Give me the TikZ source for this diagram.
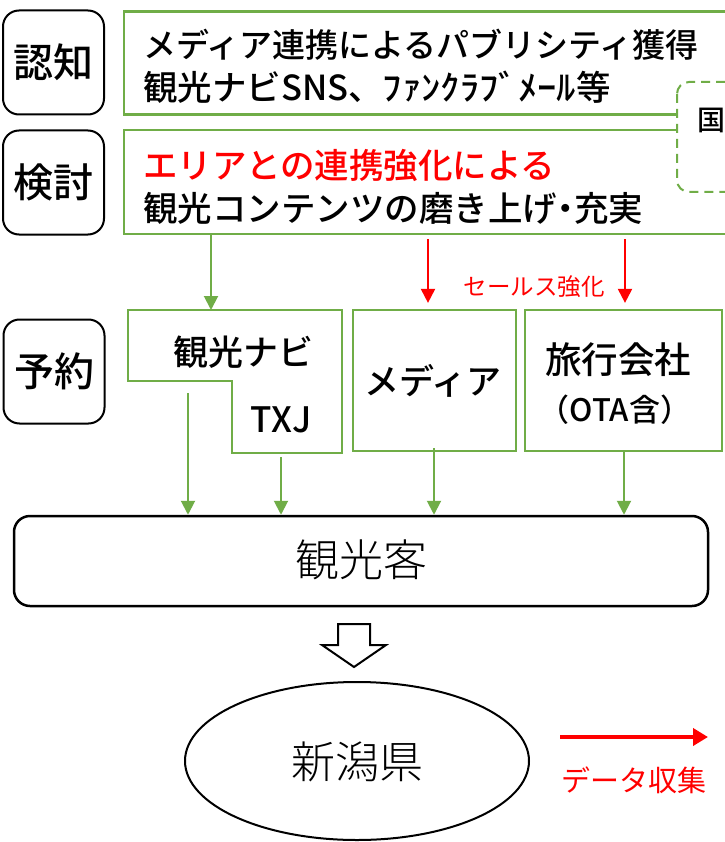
\documentclass[tikz,border=0pt]{standalone}
\usepackage{fontspec}
\IfFontExistsTF{Noto Sans CJK JP Medium}{\setmainfont{Noto Sans CJK JP Medium}}{\setmainfont{Noto Sans CJK JP}}
\newfontfamily\jpreg{Noto Sans CJK JP}
\IfFontExistsTF{Noto Sans CJK JP Light}{\newfontfamily\jplight{Noto Sans CJK JP Light}}{\newfontfamily\jplight{Noto Sans CJK JP}}
\usetikzlibrary{arrows.meta,shapes.geometric}
\definecolor{gr}{HTML}{70AD47}
\definecolor{rd}{HTML}{FF0000}
\tikzset{
  stage/.style={draw=black, line width=2pt, rounded corners=16pt, minimum width=101pt, minimum height=104pt, inner sep=0pt, font=\fontsize{40}{42}\selectfont},
  gbox/.style={draw=gr, line width=2.2pt, fill=white, inner sep=0pt},
  txt/.style={inner sep=0pt, font=\fontsize{34.5}{38}\selectfont},
  midtxt/.style={inner sep=0pt, font=\fontsize{35}{40}\selectfont},
  bigtxt/.style={inner sep=0pt, font=\jplight\fontsize{44}{48}\selectfont},
  garrow/.style={draw=gr, line width=2pt, -{Triangle[width=14pt,length=14pt]}},
  rarrow/.style={draw=rd, line width=2pt, -{Triangle[width=14pt,length=14pt]}},
}
\begin{document}
\begin{tikzpicture}[x=1pt,y=-1pt]
\useasboundingbox (0,0) rectangle (724,842);
\fill[white] (0,0) rectangle (724,842);

% stage labels
\node[stage] (ninchi) at (53.5,62.5) {認知};
\node[stage] (kento) at (53.5,182.5) {検討};
\node[stage] (yoyaku) at (54,371.5) {予約};

% top green boxes
\node[gbox, minimum width=656pt, minimum height=103pt] (box1) at (452,63) {};
\node[gbox, minimum width=656pt, minimum height=104pt] (box2) at (452,182) {};
\node[inner sep=0pt, anchor=west, font=\fontsize{33}{38}\selectfont] (l1) at (143,45) {メディア連携によるパブリシティ獲得};
\node[txt, anchor=west] (l2) at (143,87) {観光ナビSNS、\scalebox{1.12}[1]{ﾌｧﾝｸﾗﾌﾞﾒｰﾙ}等};
\node[txt, anchor=west, text=rd] (l3) at (143,165) {エリアとの連携強化による};
\node[txt, anchor=west] (l4) at (143,208) {観光コンテンツの磨き上げ\makebox[17pt][c]{・}充実};

% dashed box at right edge
\draw[draw=gr, line width=2pt, dash pattern=on 9pt off 6pt, fill=white, rounded corners=12pt] (677,82) rectangle (800,192);
\node[inner sep=0pt, anchor=west, font=\fontsize{28}{30}\selectfont] (koku) at (697,120) {国};

% row 3 boxes
\draw[draw=gr, line width=2.2pt] (128,310) -- (342,310) -- (342,453) -- (232,453) -- (232,381) -- (128,381) -- cycle;
\coordinate (navitop) at (235,310);
\node[midtxt] (navi) at (243,352) {観光ナビ};
\node[midtxt] (txj) at (281,420) {TXJ};
\node[gbox, minimum width=163pt, minimum height=141pt] (media) at (434.5,380.5) {};
\node[midtxt] (mediat) at (433,381) {メディア};
\node[gbox, minimum width=197pt, minimum height=141pt] (travel) at (623.5,380.5) {};
\node[inner sep=0pt, font=\fontsize{36.5}{40}\selectfont] (travelt) at (618,360) {旅行会社};
\node[inner sep=0pt, font=\fontsize{31}{36}\selectfont] (ota) at (615,410) {（OTA含）};

% arrows from box2
\coordinate (ga) at (211,0);
\coordinate (ra) at (428,0);
\coordinate (rb) at (625,0);
\draw[garrow] (box2.south -| ga) -- (navitop -| ga);
\coordinate (rs1) at (428,239);
\coordinate (rs2) at (625,239);
\draw[rarrow] (rs1) -- ([yshift=6pt]media.north -| ra);
\draw[rarrow] (rs2) -- ([yshift=6pt]travel.north -| rb);
\node[inner sep=0pt, text=rd, font=\jpreg\fontsize{23.5}{28}\selectfont] (sales) at (534,287) {セールス強化};

% tourist box
\node[draw=black, line width=2.5pt, rounded corners=16pt, minimum width=694pt, minimum height=90pt, inner sep=0pt] (kyaku) at (361,561) {};
\node[bigtxt] (kyakut) at (361,560) {観光客};

% arrows down to tourists
\coordinate (d1) at (188,393);
\coordinate (d2) at (281,457);
\coordinate (d3) at (434,448);
\coordinate (d4) at (624,450);
\draw[garrow] (d1) -- (kyaku.north -| d1);
\draw[garrow] (d2) -- (kyaku.north -| d2);
\draw[garrow] (d3) -- (kyaku.north -| d3);
\draw[garrow] (d4) -- (kyaku.north -| d4);

% hollow block arrow
\draw[line width=2pt, fill=white, line join=miter] (338,624) -- (370,624) -- (370,645) -- (386,645) -- (354,667) -- (322,645) -- (338,645) -- cycle;

% ellipse
\node[ellipse, draw=black, line width=2pt, minimum width=344pt, minimum height=158pt, inner sep=0pt] (niigata) at (357,761) {};
\node[bigtxt] (niigatat) at (357,762) {新潟県};

% legend
\coordinate (ls) at (560,737);
\coordinate (le) at (708,737);
\draw[draw=rd, line width=4.5pt, -{Triangle[width=17pt,length=15pt]}] (ls) -- (le);
\node[inner sep=0pt, text=rd, font=\jpreg\fontsize{29}{32}\selectfont] (datat) at (634,780) {データ収集};
\end{tikzpicture}
\end{document}
